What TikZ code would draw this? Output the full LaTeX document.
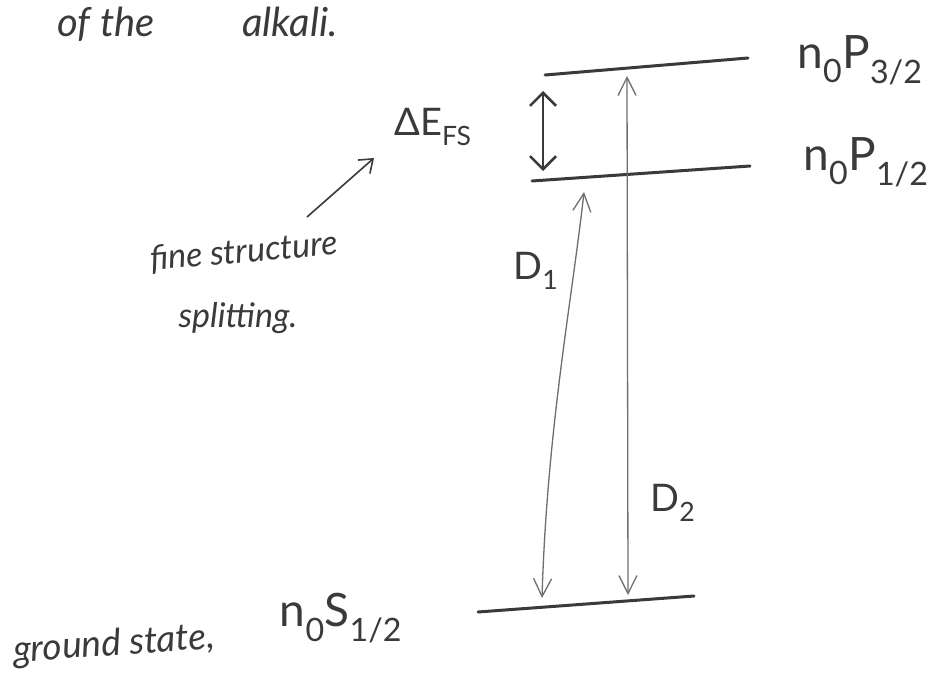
\documentclass[tikz,border=0pt]{standalone}
\usepackage{fontspec}
\setmainfont{Lato}
\usetikzlibrary{arrows.meta}
\definecolor{ink}{HTML}{3A3A3A}
\definecolor{pencil}{HTML}{6E6E6E}
\tikzset{
  hand/.style={text=ink, inner sep=0pt, font=\fontsize{34}{38}\selectfont\itshape},
  statelab/.style={text=ink, inner sep=0pt, font=\fontsize{46}{50}\selectfont},
  dlab/.style={text=ink, inner sep=0pt, font=\fontsize{38}{42}\selectfont},
  level/.style={draw=ink, line width=3pt, line cap=round},
  trans/.style={draw=pencil, line width=1.3pt, {Straight Barb[length=18pt,width=18pt]}-{Straight Barb[length=18pt,width=18pt]}},
  split/.style={draw=ink, line width=2.6pt, {Straight Barb[length=13pt,width=26pt]}-{Straight Barb[length=13pt,width=26pt]}},
  lead/.style={draw=ink, line width=1.6pt, -{Straight Barb[length=12pt,width=18pt]}}
}
\begin{document}
\begin{tikzpicture}[x=1pt,y=-1pt]
\useasboundingbox[fill=white] (0,0) rectangle (931,698);
% top text
\node[hand, font=\fontsize{40}{44}\selectfont\itshape] (of) at (106,24) {of the};
\node[hand, font=\fontsize{40}{44}\selectfont\itshape] (alk) at (290,22) {alkali.};
% energy levels
\coordinate (p3a) at (545,75);  \coordinate (p3b) at (748,58);
\coordinate (p1a) at (532,181); \coordinate (p1b) at (750,166);
\coordinate (sa)  at (478,612); \coordinate (sb)  at (694,596);
\draw[level] (p3a) -- (p3b);
\draw[level] (p1a) -- (p1b);
\draw[level] (sa) -- (sb);
% level labels
\node[statelab] (p3lab) at (860,60) {n\textsubscript{0}P\textsubscript{3/2}};
\node[statelab] (p1lab) at (866,162) {n\textsubscript{0}P\textsubscript{1/2}};
\node[statelab] (slab) at (341,618) {n\textsubscript{0}S\textsubscript{1/2}};
\node[hand, rotate=4, font=\fontsize{37}{40}\selectfont\itshape] (gs) at (114,645) {ground state,};
% fine structure splitting
\coordinate (dtop) at (543,91);
\coordinate (dbot) at (543,171);
\draw[split] (dtop) -- (dbot);
\node[statelab, font=\fontsize{38}{42}\selectfont] (dE) at (433,127) {ΔE\textsubscript{FS}};
\node[hand, rotate=5] (fs1) at (244,252) {fine structure};
\node[hand] (fs2) at (238,318) {splitting.};
\coordinate (ls) at (307,217);
\coordinate (le) at (374,158);
\draw[lead] (ls) -- (le);
% D transitions
\coordinate (d1t) at (584,192);
\coordinate (d1b) at (542,598);
\coordinate (d2t) at (627,76);
\coordinate (d2b) at (628,595);
\draw[trans] (d1b) .. controls (547,430) and (572,300) .. (d1t);
\draw[trans] (d2b) -- (d2t);
\node[dlab] (D1) at (536,271) {D\textsubscript{1}};
\node[dlab] (D2) at (673,503) {D\textsubscript{2}};
\end{tikzpicture}
\end{document}
